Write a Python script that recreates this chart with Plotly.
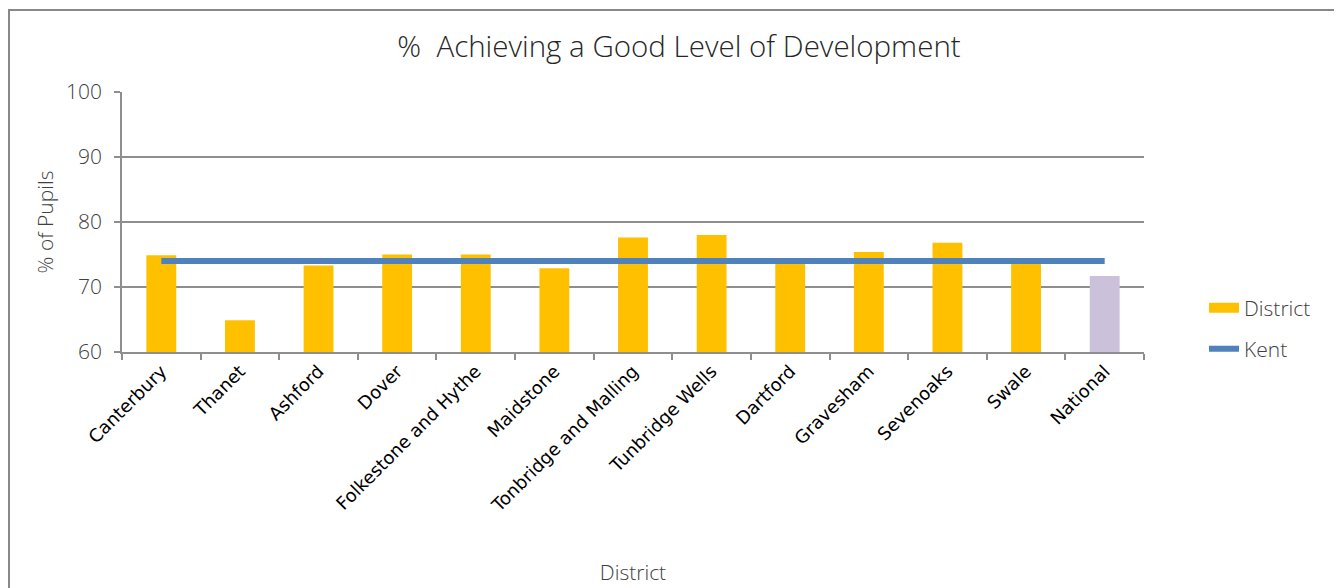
import plotly.graph_objects as go

districts = ["Canterbury", "Thanet", "Ashford", "Dover", "Folkestone and Hythe",
             "Maidstone", "Tonbridge and Malling", "Tunbridge Wells", "Dartford",
             "Gravesham", "Sevenoaks", "Swale", "National"]
district_values = [74.9, 64.9, 73.3, 75.0, 75.0, 72.9, 77.6, 78.0, 73.6, 75.4, 76.8, 73.7, 71.7]
kent_values = [74.0, 74.0, 74.0, 74.0, 74.0, 74.0, 74.0, 74.0, 74.0, 74.0, 74.0, 74.0, 74.0]
bar_colors = ["#FFC000"] * 12 + ["#CCC1DA"]

y_ticks = [60, 70, 80, 90, 100]

GOLD = "#FFC000"
BLUE = "#4F81BD"
GRID = "#8E8E8E"
TXT = "#404040"
LIGHT = dict(family="Open Sans", weight=300)

fig = go.Figure()
fig.add_trace(go.Bar(x=districts, y=district_values, marker=dict(color=bar_colors, line=dict(width=0)),
                     name="District", showlegend=False, hoverinfo="x+y"))
fig.add_trace(go.Scatter(x=districts, y=kent_values, mode="lines", name="Kent",
                         line=dict(color=BLUE, width=6), legend="legend2"))
# legend swatch for District series
fig.add_trace(go.Scatter(x=[None], y=[None], mode="lines", name="District",
                         line=dict(color=GOLD, width=13), legend="legend", hoverinfo="skip"))

# page offset from default body margin
OFF = 8
pw, ph = 1022, 260
def px_x(p):
    return (p - 122) / pw
def px_y(p):
    return (352 - p) / ph

W, H = 1342 - OFF, 588 - OFF

fig.update_layout(
    width=W, height=H,
    margin=dict(l=122 - OFF, r=W - (1144 - OFF), t=92 - OFF, b=H - (352 - OFF)),
    paper_bgcolor="white", plot_bgcolor="white",
    bargap=0.62,
    title=dict(text="%  Achieving a Good Level of Development", x=0.503, xanchor="center",
               y=1 - (47 - OFF) / H, yanchor="middle", automargin=False,
               font=dict(size=29.5, color="#262626", **LIGHT)),
    xaxis=dict(
        type="category", tickangle=-45, tickfont=dict(family="DejaVu Sans", size=18, color="black"),
        showline=True, linecolor=GRID, linewidth=1.5, automargin=False,
        ticks="outside", ticklen=6, tickcolor=GRID, tickwidth=1.5, tickson="boundaries",
        showgrid=False,
        title=dict(text="District", font=dict(size=21, color=TXT, **LIGHT), standoff=50),
    ),
    yaxis=dict(
        range=[60, 100], tickvals=y_ticks, ticktext=[str(v) for v in y_ticks],
        tickfont=dict(size=21, color=TXT, **LIGHT), ticklabelstandoff=8,
        showline=True, linecolor=GRID, linewidth=1.5, automargin=False,
        ticks="outside", ticklen=6, tickcolor=GRID, tickwidth=1.5,
        showgrid=True, gridcolor=GRID, gridwidth=1.5, zeroline=False,
        title=dict(text="% of Pupils", font=dict(size=21, color=TXT, **LIGHT), standoff=7),
    ),
    legend=dict(x=px_x(1204), y=px_y(308), xanchor="left", yanchor="middle",
                font=dict(size=21, color=TXT, **LIGHT), bgcolor="rgba(0,0,0,0)"),
    legend2=dict(x=px_x(1204), y=px_y(349), xanchor="left", yanchor="middle",
                 font=dict(size=21, color=TXT, **LIGHT), bgcolor="rgba(0,0,0,0)"),
    shapes=[dict(type="rect", xref="paper", yref="paper",
                 x0=px_x(9), x1=px_x(1360), y0=px_y(620), y1=px_y(10),
                 line=dict(color="#888888", width=2), fillcolor="rgba(0,0,0,0)", layer="below")],
)

fig.write_html("out.html")
